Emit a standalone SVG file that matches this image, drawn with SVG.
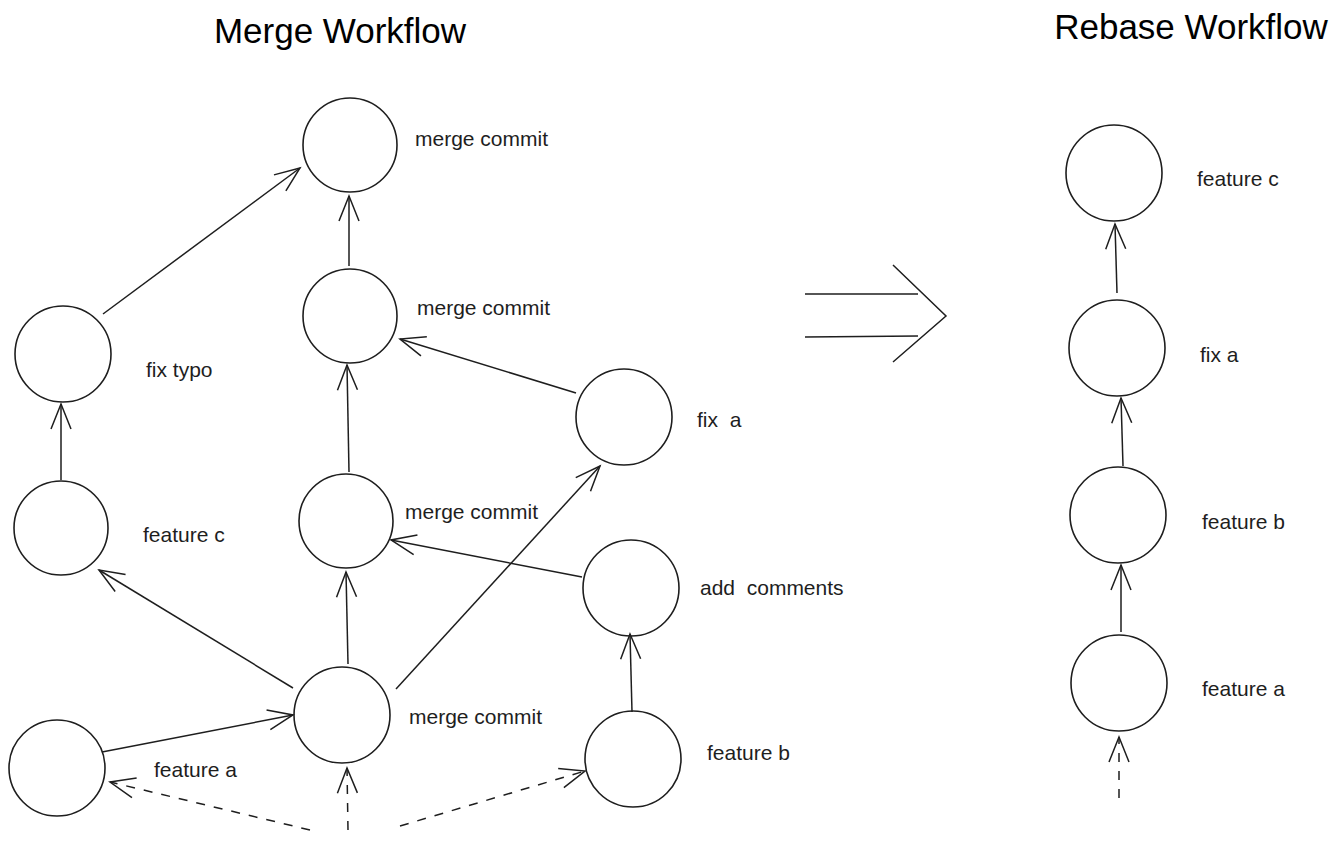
<svg xmlns="http://www.w3.org/2000/svg" width="1342" height="841" viewBox="0 0 1342 841">
<style>
.n{fill:none;stroke:#1e1e1e;stroke-width:1.6}
.t{font-family:"Liberation Sans",Arial,sans-serif;font-size:21px;fill:#1e1e1e}
.h{font-family:"Liberation Sans",Arial,sans-serif;font-size:35px;fill:#000}
.e{fill:none;stroke:#1e1e1e;stroke-width:1.5;marker-end:url(#a)}
.d{stroke-dasharray:9 9}
.b{fill:none;stroke:#1e1e1e;stroke-width:1.5}
</style>
<defs>
<marker id="a" markerUnits="userSpaceOnUse" markerWidth="60" markerHeight="60" refX="0" refY="0" viewBox="-30 -30 60 60" orient="auto" overflow="visible">
<path d="M-25,-10 L0,0 L-25,10" fill="none" stroke="#1e1e1e" stroke-width="1.5" stroke-dasharray="none"/>
</marker>
</defs>
<rect width="1342" height="841" fill="#fff"/>
<text class="h" x="340" y="43" text-anchor="middle">Merge Workflow</text>
<text class="h" x="1191" y="39" text-anchor="middle">Rebase Workflow</text>

<g id="m1"><circle class="n" cx="350" cy="145" r="47"/><text class="t" x="415" y="146">merge commit</text></g>
<g id="m2"><circle class="n" cx="350" cy="316" r="47"/><text class="t" x="417" y="315">merge commit</text></g>
<g id="fixtypo"><circle class="n" cx="63" cy="354" r="48"/><text class="t" x="146" y="377">fix typo</text></g>
<g id="fixa"><circle class="n" cx="624" cy="417" r="48"/><text class="t" x="697" y="427" xml:space="preserve">fix  a</text></g>
<g id="featc"><circle class="n" cx="61" cy="528" r="47"/><text class="t" x="143" y="542">feature c</text></g>
<g id="m3"><circle class="n" cx="346" cy="521" r="47"/><text class="t" x="405" y="519">merge commit</text></g>
<g id="addc"><circle class="n" cx="631" cy="588" r="48"/><text class="t" x="700" y="595" xml:space="preserve">add  comments</text></g>
<g id="base"><circle class="n" cx="57" cy="768" r="48"/></g>
<g id="m4"><circle class="n" cx="342" cy="715" r="48"/><text class="t" x="409" y="724">merge commit</text></g>
<g id="featb"><circle class="n" cx="633" cy="759" r="48"/><text class="t" x="707" y="760">feature b</text></g>
<g id="feata-label"><text class="t" x="154" y="777">feature a</text></g>

<g id="r1"><circle class="n" cx="1114" cy="173" r="48"/><text class="t" x="1197" y="186">feature c</text></g>
<g id="r2"><circle class="n" cx="1117" cy="348" r="48"/><text class="t" x="1200" y="362">fix a</text></g>
<g id="r3"><circle class="n" cx="1118" cy="515" r="48"/><text class="t" x="1202" y="529">feature b</text></g>
<g id="r4"><circle class="n" cx="1119" cy="683" r="48"/><text class="t" x="1202" y="696">feature a</text></g>

<g id="connectors">
<path class="e" d="M103,314 L300,168"/>
<path class="e" d="M349,266 L349,196"/>
<path class="e" d="M61,480 L61,404"/>
<path class="e" d="M349,472 L347,365"/>
<path class="e" d="M576,393 L400,339"/>
<path class="e" d="M293,688 L99,570"/>
<path class="e" d="M348,664 L346,572"/>
<path class="e" d="M396,689 L600,466"/>
<path class="e" d="M582,577 L391,540"/>
<path class="e" d="M632,712 L630,634"/>
<path class="e" d="M102,752 L293,715"/>
<path class="e d" d="M310,830 L110,782"/>
<path class="e d" d="M348,830 L347,768"/>
<path class="e d" d="M400,826 L585,771"/>
<path class="e" d="M1117,293 L1115,224"/>
<path class="e" d="M1123,466 L1121,398"/>
<path class="e" d="M1121,632 L1121,565"/>
<path class="e d" d="M1119,798 L1119,737"/>
</g>
<g id="bigarrow">
<path class="b" d="M805,294 L918,294"/>
<path class="b" d="M805,337 L918,336"/>
<path class="b" d="M893,265 L946,316 L893,362"/>
</g>
</svg>
